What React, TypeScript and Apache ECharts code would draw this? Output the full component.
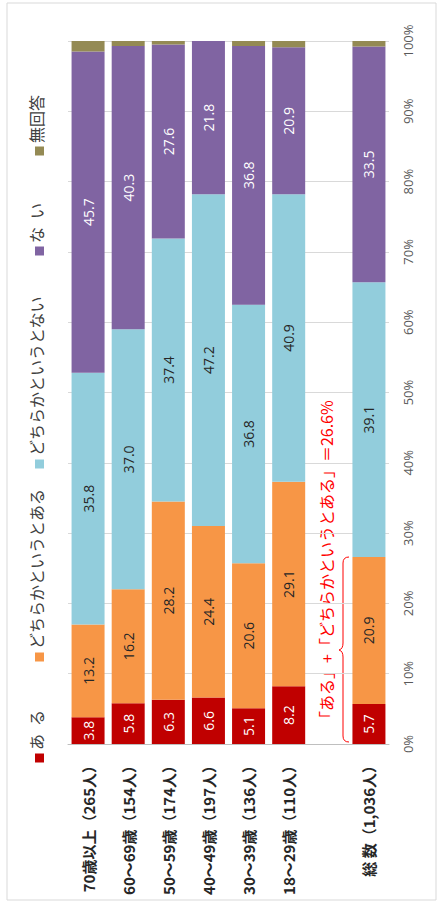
import React, { useEffect, useRef } from "react";
import * as echarts from "echarts";

const categories = [
  "70歳以上（265人）",
  "60～69歳（154人）",
  "50～59歳（174人）",
  "40～49歳（197人）",
  "30～39歳（136人）",
  "18～29歳（110人）",
  "",
  "総 数（1,036人）",
];
const seriesNames = ["あ\u2002る", "どちらかというとある", "どちらかというとない", "な\u2002い", "無回答"];
const aru = [3.8, 5.8, 6.3, 6.6, 5.1, 8.2, null, 5.7];
const dochiraAru = [13.2, 16.2, 28.2, 24.4, 20.6, 29.1, null, 20.9];
const dochiraNai = [35.8, 37.0, 37.4, 47.2, 36.8, 40.9, null, 39.1];
const nai = [45.7, 40.3, 27.6, 21.8, 36.8, 20.9, null, 33.5];
const mukaito = [1.5, 0.7, 0.5, 0.0, 0.7, 0.9, null, 0.8];
const yTicks = [0, 10, 20, 30, 40, 50, 60, 70, 80, 90, 100];

const colors = ["#C00000", "#F79646", "#92CDDC", "#8064A2", "#948A54"];
const labelColors = ["#FFFFFF", "#262626", "#262626", "#FFFFFF", ""];

const bracePath =
  "M 10 0 Q 4 0 4 6 L 4 86 Q 4 92 0 93 Q 4 94 4 100 L 4 179 Q 4 185 10 185";

export default function App() {
  const ref = useRef<HTMLDivElement>(null);
  useEffect(() => {
    if (!ref.current) return;
    try {
      echarts.graphic.registerShape("brace", echarts.graphic.extendPath(bracePath, {}) as any);
    } catch (e) {}
    const chart = echarts.init(ref.current, null, { renderer: "svg" });
    const allData = [aru, dochiraAru, dochiraNai, nai, mukaito];
    const totalIdx = categories.length - 1;
    const sum = (aru[totalIdx] as number) + (dochiraAru[totalIdx] as number);

    const legendCenters = [758, 657, 464, 251, 151];
    const legendGraphics: any[] = [];
    seriesNames.forEach((n, i) => {
      legendGraphics.push({
        type: "rect",
        shape: { x: 35, y: legendCenters[i] - 4.5, width: 9, height: 9 },
        style: { fill: colors[i] },
      });
      legendGraphics.push({
        type: "text",
        x: 36,
        y: legendCenters[i] - 8,
        rotation: Math.PI / 2,
        style: {
          text: n,
          align: "left",
          verticalAlign: "middle",
          fill: "#404040",
          font: "16px 'Noto Sans CJK JP'",
        },
      });
    });

    const option: any = {
      animation: false,
      backgroundColor: "#FFFFFF",
      grid: { left: 68, right: 54, top: 41, bottom: 158 },
      xAxis: {
        type: "category",
        data: categories,
        axisTick: { show: false },
        axisLine: { lineStyle: { color: "#BFBFBF" } },
        axisLabel: {
          rotate: 90,
          margin: 14,
          interval: 0,
          fontSize: 15,
          fontWeight: "bold",
          color: "#262626",
          fontFamily: "'Noto Sans CJK JP'",
        },
      },
      yAxis: {
        type: "value",
        position: "right",
        min: 0,
        max: 100,
        interval: 10,
        axisLine: { show: false },
        axisTick: { show: false },
        splitLine: { lineStyle: { color: "#D9D9D9" } },
        axisLabel: {
          formatter: (v: number) => (yTicks.includes(v) ? v + "%" : ""),
          rotate: 90,
          align: "center",
          verticalAlign: "middle",
          margin: 19,
          fontSize: 13,
          color: "#595959",
          fontFamily: "'Open Sans'",
        },
      },
      series: allData.map((d, i) => ({
        name: seriesNames[i],
        type: "bar",
        stack: "total",
        data: d,
        barWidth: 33,
        itemStyle: { color: colors[i] },
        label: {
          show: i < 4,
          position: "inside",
          rotate: 90,
          fontSize: 14,
          fontFamily: "'Open Sans'",
          color: labelColors[i],
          formatter: (p: any) => (p.value == null ? "" : Number(p.value).toFixed(1)),
        },
      })),
      graphic: [
        {
          type: "rect",
          shape: { x: 7, y: 3, width: 429, height: 897 },
          style: { fill: "none", stroke: "#D9D9D9", lineWidth: 1 },
          silent: true,
        },
        ...legendGraphics,
        {
          type: "text",
          x: 326,
          y: 727,
          rotation: Math.PI / 2,
          style: {
            text: "「ある」+「どちらかというとある」＝" + sum.toFixed(1) + "%",
            align: "left",
            verticalAlign: "middle",
            fill: "#FF0000",
            font: "16px 'Noto Sans CJK JP'",
          },
        },
        {
          type: "brace",
          x: 339,
          y: 557,
          style: { fill: "none", stroke: "#FF0000", lineWidth: 1 },
        },
      ],
    };
    chart.setOption(option);
    return () => chart.dispose();
  }, []);
  return (
    <div
      ref={ref}
      style={{ position: "absolute", left: 0, top: 0, width: 443, height: 902 }}
    />
  );
}
